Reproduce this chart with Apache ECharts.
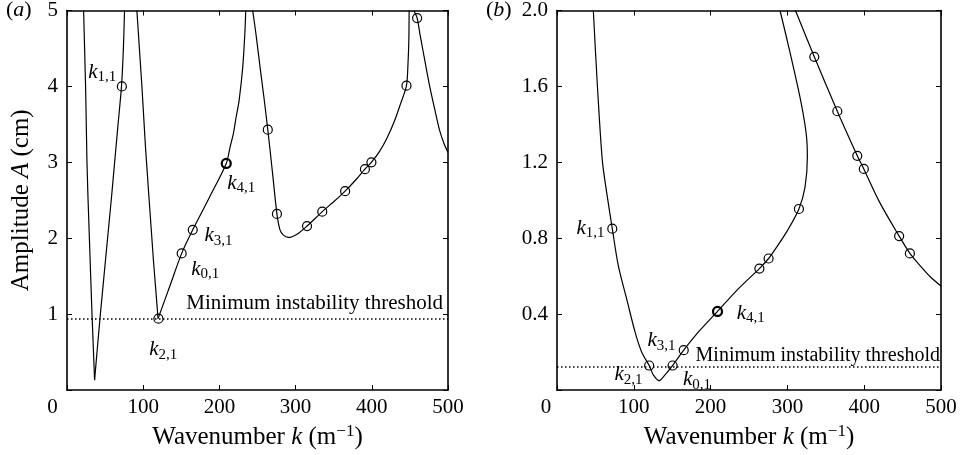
<!DOCTYPE html>
<html>
<head>
<meta charset="utf-8">
<script src="https://cdn.jsdelivr.net/npm/echarts@6/dist/echarts.min.js"></script>
<style>
  html, body { margin: 0; padding: 0; background: #fff; }
  #chart { width: 964px; height: 455px; }
</style>
</head>
<body>
<div id="chart"></div>
<script>
const kTicks = [0, 100, 200, 300, 400, 500];
const ampTicksA = [0, 1, 2, 3, 4, 5];
const ampTicksB = [0, 0.4, 0.8, 1.2, 1.6, 2.0];

const circleK = [72, 120, 150.5, 165, 209, 263.5, 275.5, 315, 335, 365, 391, 399.5, 445.5, 459.5];
const circleAmpA = [4.0, 0.94, 1.80, 2.11, 2.985, 3.43, 2.32, 2.16, 2.35, 2.62, 2.91, 3.0, 4.01, 4.9];
const circleAmpB = [0.85, 0.129, 0.129, 0.21, 0.414, 0.64, 0.693, 0.954, 1.756, 1.469, 1.234, 1.165, 0.811, 0.72];
const modeNames = ['1,1', '2,1', '0,1', '3,1', '4,1'];

const thresholdA = 0.94;
const thresholdB = 0.12;

const a1Left = [[21.8, 5], [24.4, 4], [26.2, 3], [27.5, 2.55], [32.8, 1.0], [36.2, 0.13]];
const a1Right = [[36.2, 0.13], [43.8, 1.0], [58.5, 2.55], [62.5, 3.0], [67, 3.5], [71.5, 4.0], [74, 4.5], [75.5, 5]];
const a2Left = [[91.7, 5], [98.3, 4], [103, 3.2], [107.5, 2.55], [113.5, 1.7], [119.5, 0.94]];
const a2Right = [[119.5, 0.94], [135, 1.37], [150.5, 1.80], [165, 2.11], [187.5, 2.55], [209, 2.985],
  [214, 3.2], [218.4, 3.38], [222, 3.6], [225.8, 3.81], [230.6, 4.25], [233.3, 4.68], [234.6, 5]];
const a3 = [[243.7, 5], [248.1, 4.68], [253.4, 4.25], [258.5, 3.85], [263.5, 3.43], [269.5, 2.88],
  [275.5, 2.32], [279.5, 2.11], [284, 2.04], [290.5, 2.01], [301.4, 2.05], [315, 2.16], [335, 2.35],
  [350, 2.48], [365, 2.62], [380, 2.78], [391, 2.91], [399.5, 3.0], [410, 3.14], [420, 3.32],
  [430, 3.55], [438, 3.78], [445.5, 4.01], [447.5, 4.3], [448.6, 4.6], [449, 5]];
const a4 = [[455, 5], [459.5, 4.9], [463, 4.7], [467.4, 4.46], [476, 4.0], [483, 3.68], [489, 3.42],
  [495, 3.24], [500, 3.13]];

const b1 = [[47.3, 2.0], [52.5, 1.61], [59, 1.21], [64.7, 1.04], [72, 0.85], [79.9, 0.654], [90.7, 0.48],
  [101.6, 0.306], [110.2, 0.2], [120, 0.129], [125.4, 0.08], [133.2, 0.049], [140.6, 0.08], [150.5, 0.129],
  [165, 0.21], [186.2, 0.315], [209, 0.414], [236, 0.533], [263.5, 0.64], [275.5, 0.693], [283.8, 0.74],
  [300, 0.84], [315, 0.954], [323, 1.07], [326, 1.23], [324.5, 1.35], [317.3, 1.525], [303, 1.786],
  [290.4, 2.0]];
const b2 = [[310.5, 2.0], [335, 1.756], [365, 1.469], [391, 1.234], [399.5, 1.165], [420, 0.99],
  [445.5, 0.811], [459.5, 0.72], [472.7, 0.656], [486, 0.597], [500, 0.548]];

const FONT = 'Liberation Serif';
const labelOffsetA = [[-19.7, -14.2], [4.8, 31], [23.6, 15.7], [25.7, 6], [15, 20]];
const labelOffsetB = [[-21.8, -0.7], [-20.7, 9.4], [24.4, 14.4], [-22.3, -9.2], [33.3, 1.8]];

const modeRich = {
  k: { fontFamily: FONT, fontStyle: 'italic', fontSize: 21, lineHeight: 22, color: '#000' },
  s: { fontFamily: FONT, fontSize: 15, lineHeight: 16, padding: [10, 0, 0, 0], color: '#000' }
};

// ticks point into the plot box
const tickStyle = { show: true, inside: false, length: -5, lineStyle: { color: '#000', width: 1 } };
const boxLine = { show: true, onZero: false, lineStyle: { color: '#000', width: 1.6 } };

const myChart = echarts.init(document.querySelector('#chart'));

function bottomAxis(grid, zeroShift) {
  return {
    type: 'value', gridIndex: grid, position: 'bottom', min: 0, max: 500, interval: 100,
    axisLine: boxLine, axisTick: tickStyle, splitLine: { show: false },
    axisLabel: {
      color: '#000', fontFamily: FONT, fontSize: 21, margin: 7,
      formatter: v => v === 0 ? '{z|0}' : String(v),
      rich: { z: { fontFamily: FONT, fontSize: 21, color: '#000', padding: [0, zeroShift, 0, 0] } }
    },
    name: '{r|Wavenumber }{i|k}{r| (m}{p|\u22121}{r|)}',
    nameLocation: 'middle', nameGap: 33,
    nameTextStyle: {
      rich: {
        r: { fontFamily: FONT, fontSize: 25, color: '#000' },
        i: { fontFamily: FONT, fontSize: 25, fontStyle: 'italic', color: '#000' },
        p: { fontFamily: FONT, fontSize: 17, color: '#000', padding: [0, 0, 12, 0] }
      }
    }
  };
}
function topAxis(grid) {
  return {
    type: 'value', gridIndex: grid, position: 'top', min: 0, max: 500, interval: 100,
    axisLine: boxLine, axisTick: tickStyle,
    axisLabel: { show: false }, splitLine: { show: false }
  };
}
function yAxisOf(grid, pos, ticks, fmt, named) {
  const ax = {
    type: 'value', gridIndex: grid, position: pos,
    min: ticks[0], max: ticks[ticks.length - 1], interval: ticks[1] - ticks[0],
    axisLine: boxLine, axisTick: tickStyle, splitLine: { show: false },
    axisLabel: pos === 'left'
      ? { color: '#000', fontFamily: FONT, fontSize: 21, margin: 9, formatter: v => v === 0 ? '' : fmt(v) }
      : { show: false }
  };
  if (named) {
    ax.name = '{r|Amplitude }{i|A}{r| (cm)}';
    ax.nameLocation = 'middle';
    ax.nameGap = 33;
    ax.nameTextStyle = {
      rich: {
        r: { fontFamily: FONT, fontSize: 25, color: '#000' },
        i: { fontFamily: FONT, fontSize: 25, fontStyle: 'italic', color: '#000' }
      }
    };
  }
  return ax;
}

function curve(data, xi, yi, smooth) {
  return {
    type: 'line', data, xAxisIndex: xi, yAxisIndex: yi, showSymbol: false, smooth: smooth ? 0.3 : false,
    lineStyle: { color: '#000', width: 1.2 }, silent: true, z: 2
  };
}
function circles(amps, offsets, xi, yi, threshold, sizeText, dist) {
  const data = circleK.map((k, i) => {
    const item = { value: [k, amps[i]] };
    if (i === 4) item.itemStyle = { borderWidth: 2.2 };
    if (i < modeNames.length) {
      item.label = {
        show: true, position: 'inside', offset: offsets[i], color: '#000',
        formatter: '{k|k}{s|' + modeNames[i] + '}', rich: modeRich
      };
    }
    return item;
  });
  return {
    type: 'scatter', data, xAxisIndex: xi, yAxisIndex: yi, symbol: 'circle', symbolSize: 9,
    itemStyle: { color: 'rgba(0,0,0,0)', borderColor: '#000', borderWidth: 1.2, opacity: 1 },
    silent: true, z: 3,
    markLine: {
      silent: true, symbol: ['none', 'none'], animation: false,
      lineStyle: { color: '#000', type: [1.5, 2.5], width: 1.5 },
      label: {
        show: true, position: 'insideEndTop', distance: dist,
        formatter: 'Minimum instability threshold',
        color: '#000', fontFamily: FONT, fontSize: sizeText
      },
      data: [{ yAxis: threshold }]
    }
  };
}

const panelRich = {
  p: { fontFamily: FONT, fontSize: 22, fontWeight: 'normal', color: '#000' },
  i: { fontFamily: FONT, fontSize: 22, fontWeight: 'normal', fontStyle: 'italic', color: '#000' }
};

myChart.setOption({
  animation: false,
  backgroundColor: '#fff',
  title: [
    { text: '{p|(}{i|a}{p|)}', left: 6, top: -1, padding: 0, textStyle: { fontWeight: 'normal', rich: panelRich } },
    { text: '{p|(}{i|b}{p|)}', left: 486, top: -1, padding: 0, textStyle: { fontWeight: 'normal', rich: panelRich } }
  ],
  grid: [
    { left: 67, top: 9, width: 381, height: 383 },
    { left: 557, top: 9, width: 384, height: 383 }
  ],
  xAxis: [bottomAxis(0, 29), topAxis(0), bottomAxis(1, 22), topAxis(1)],
  yAxis: [
    yAxisOf(0, 'left', ampTicksA, v => String(v), true),
    yAxisOf(0, 'right', ampTicksA, v => String(v), false),
    yAxisOf(1, 'left', ampTicksB, v => v.toFixed(1), false),
    yAxisOf(1, 'right', ampTicksB, v => v.toFixed(1), false)
  ],
  series: [
    curve(a1Left, 0, 0, false),
    curve(a1Right, 0, 0, true),
    curve(a2Left, 0, 0, false),
    curve(a2Right, 0, 0, true),
    curve(a3, 0, 0, true),
    curve(a4, 0, 0, true),
    curve(b1, 2, 2, true),
    curve(b2, 2, 2, true),
    circles(circleAmpA, labelOffsetA, 0, 0, thresholdA, 21, 5),
    circles(circleAmpB, labelOffsetB, 2, 2, thresholdB, 20, 1)
  ]
});
</script>
</body>
</html>
